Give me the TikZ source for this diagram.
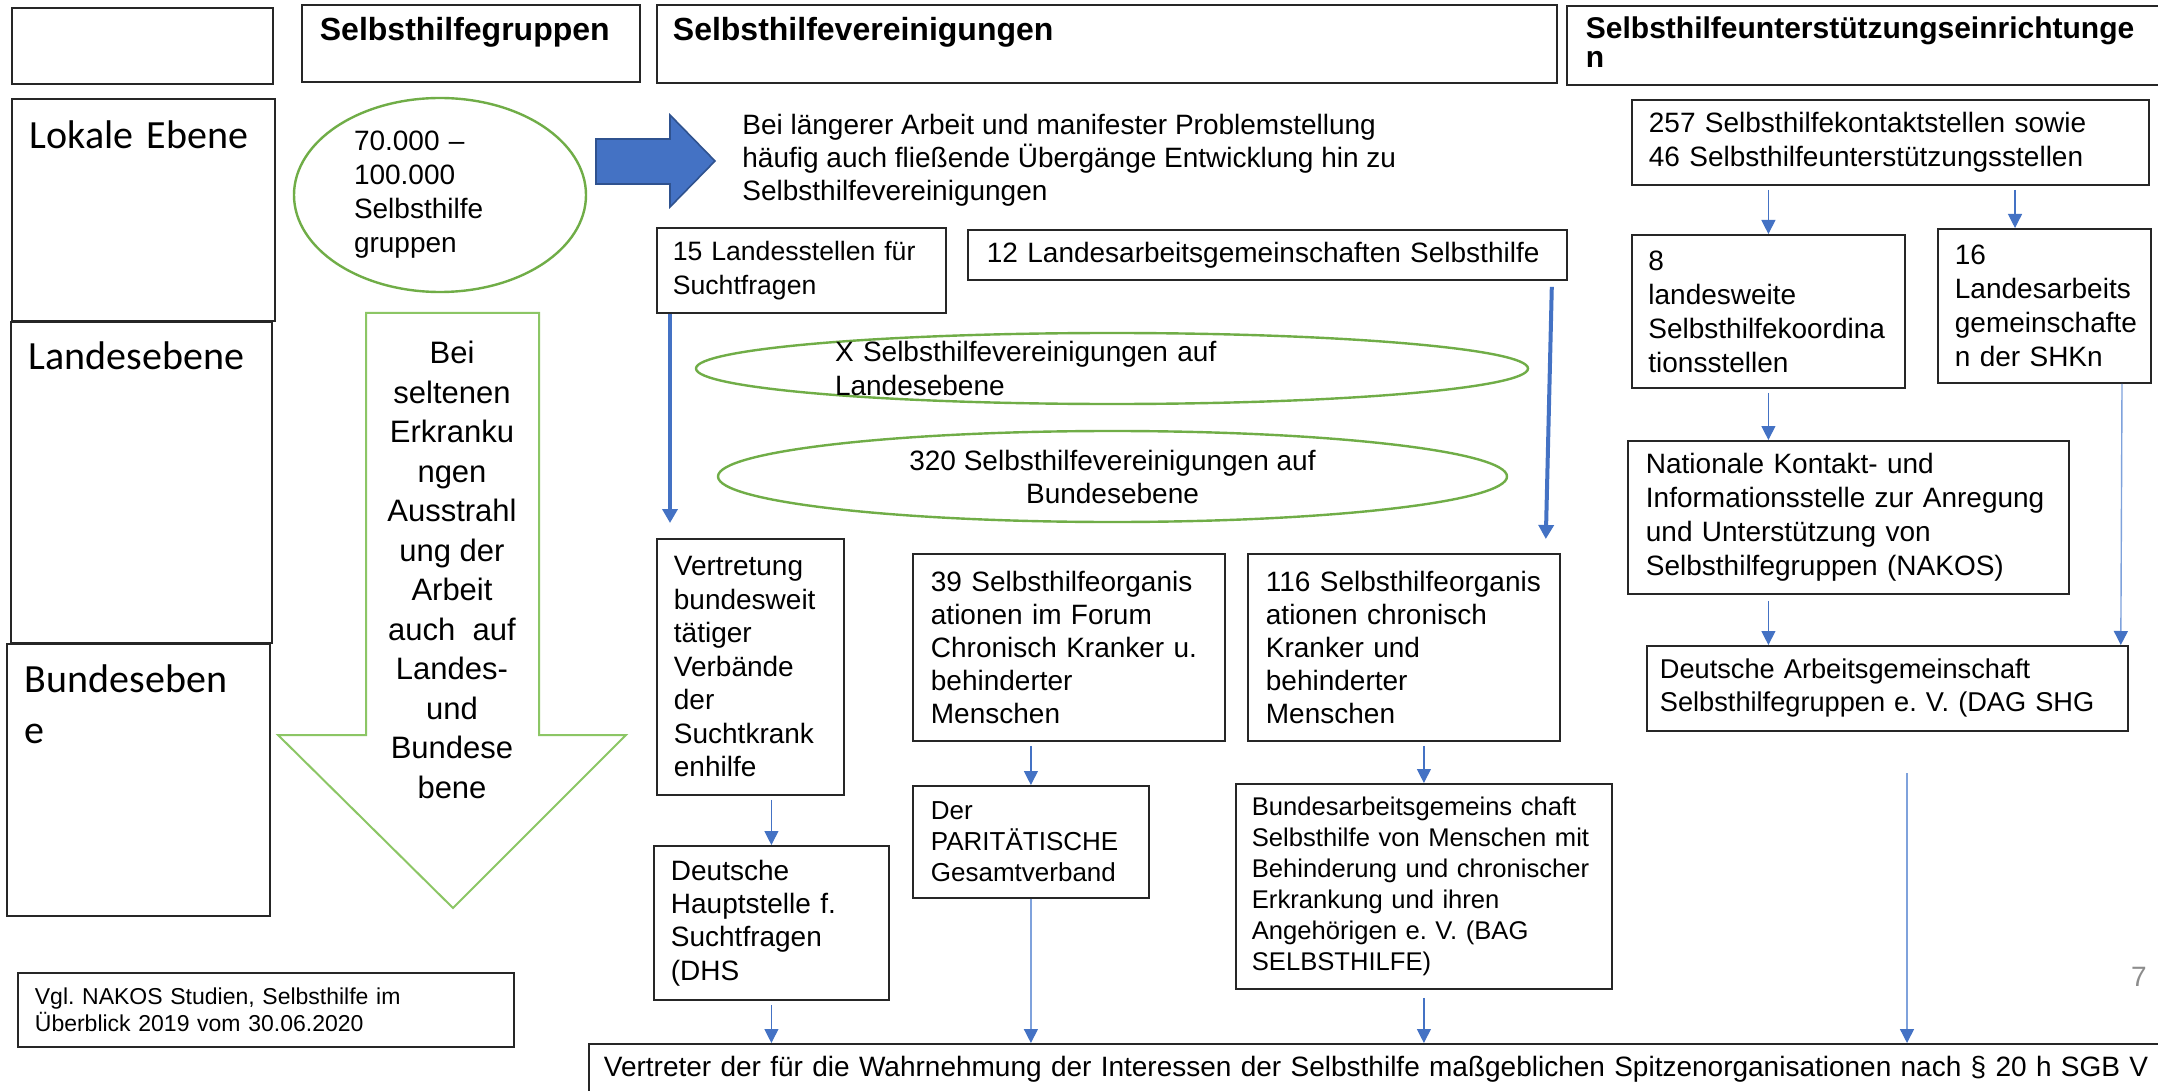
\documentclass[tikz,border=0pt]{standalone}
\usepackage{fontspec}
\setmainfont{Liberation Sans}
\newfontfamily\calibri{Carlito}
\usetikzlibrary{positioning, arrows.meta, calc, shapes.geometric}
\definecolor{sh-blue}{HTML}{4472C4}
\definecolor{sh-navy}{HTML}{2F528F}
\definecolor{sh-sky}{HTML}{7FA2DC}
\definecolor{sh-green}{HTML}{70AD47}
\definecolor{sh-lime}{HTML}{8CC665}
\definecolor{sh-line}{HTML}{262626}
\definecolor{sh-gray}{HTML}{8C8C8C}
\newcommand{\fsz}[2]{\fontsize{#1}{#2}\selectfont\frenchspacing}
\hyphenpenalty=10000
\exhyphenpenalty=10000

\begin{document}
\begin{tikzpicture}[x=0.5pt, y=-0.5pt,
    box/.style={draw=sh-line, line width=0.9pt, anchor=north west, align=left,
                inner ysep=0pt, font=\fsz{14pt}{17pt}},
    head/.style={box, font=\bfseries\fsz{16pt}{15pt}, text height=18pt},
    level/.style={box, font=\calibri\fsz{20pt}{25.5pt}, inner xsep=9pt, text width=113.5pt},
    oval/.style={draw=sh-green, line width=1.2pt, ellipse, inner sep=0pt},
    ovaltext/.style={inner sep=0pt, font=\fsz{14pt}{17pt}},
    arr/.style={-{Triangle[length=7pt, width=7pt]}, sh-blue, line width=0.6pt, shorten <=2pt},
    farr/.style={-{Triangle[length=7pt, width=7pt, color=sh-blue]}, sh-sky, line width=0.7pt},
    bigarr/.style={-{Triangle[length=7pt, width=7.5pt]}, sh-blue, line width=2pt},
]
    \useasboundingbox (0,0) rectangle (2158,1091);
    \fill[white] (0,0) rectangle (2158,1091);

    % Column heads
    \node[box, minimum width=130.5pt, minimum height=38pt] (corner) at (11,7) {};
    \node[head, inner xsep=9pt, text width=151pt, text depth=20.5pt] (hgruppen) at (301,4)
        {Selbsthilfegruppen};
    \node[head, inner xsep=8pt, text width=434pt, text depth=21pt] (hvereine) at (656,4)
        {Selbsthilfevereinigungen};
    \node[head, font=\bfseries\fsz{15pt}{14.5pt}, inner xsep=9.5pt, text width=300pt,
          text height=16.5pt, text depth=23pt] (hstellen) at (1566,5)
        {Selbsthilfeunterstützungseinrichtunge\\n};

    % Levels
    \node[level, text height=25pt, text depth=86pt] (lokal) at (11,98) {Lokale Ebene};
    \node[level, text width=112.5pt, text height=24pt, text depth=136.5pt] (landes) at (10,321)
        {Landesebene};
    \node[level, text height=24.5pt, text depth=111.5pt] (bundes) at (6,643) {Bundeseben\\e};

    % Selbsthilfegruppen
    \node[oval, minimum width=146pt, minimum height=97pt,
          label={[ovaltext, text width=86pt, align=left]center:{70.000 –\\100.000\\Selbsthilfe\\gruppen}}]
        (gruppen) at (440,195) {};
    \draw[draw=sh-lime, line width=1pt] (366,313) -- (539,313) -- (539,735) -- (626,735)
        -- (453,908) -- (278,735) -- (366,735) -- cycle;
    \node[font=\fsz{15.5pt}{19.75pt}, align=center, inner sep=0pt] (selten) at (452,570)
        {Bei\\seltenen\\Erkranku\\ngen\\Ausstrahl\\ung der\\Arbeit\\auch~ auf\\Landes-\\und\\Bundese\\bene};

    % Selbsthilfevereinigungen
    \draw[fill=sh-blue, draw=sh-navy, line width=0.8pt] (596,139) -- (670,139) -- (670,115)
        -- (715,161) -- (670,207) -- (670,184) -- (596,184) -- cycle;
    \node[align=left, anchor=west, inner sep=0pt, font=\fsz{14pt}{16.5pt}] (uebergang) at (742,160)
        {Bei längerer Arbeit und manifester Problemstellung\\häufig auch fließende Übergänge Entwicklung hin zu\\Selbsthilfevereinigungen};
    \node[box, font=\fsz{13.3pt}{17pt}, inner xsep=8pt, text width=128.5pt, minimum height=42.5pt]
        (ls15) at (656,227) {15 Landesstellen für\\Suchtfragen};
    \node[box, inner xsep=9.5pt, text width=280.5pt, minimum height=25pt] (lag12) at (967,229)
        {12 Landesarbeitsgemeinschaften Selbsthilfe};
    \node[oval, minimum width=416pt, minimum height=35.5pt,
          label={[ovaltext, text width=277pt, align=left]center:{X Selbsthilfevereinigungen auf\\Landesebene}}]
        (landesX) at (1112,368.5) {};
    \node[oval, minimum width=394.5pt, minimum height=45.5pt,
          label={[ovaltext, font=\fsz{14pt}{16.5pt}, align=center]center:{320 Selbsthilfevereinigungen auf\\Bundesebene}}]
        (bund320) at (1112.5,476.5) {};
    \node[box, font=\fsz{14pt}{16.75pt}, inner xsep=8.5pt, text width=76.5pt, minimum height=128pt]
        (vert) at (656,538) {Vertretung\\bundesweit\\tätiger\\Verbände\\der\\Suchtkrank\\enhilfe};
    \node[box, font=\fsz{14pt}{16.6pt}, inner xsep=9pt, text width=138pt, minimum height=93.5pt]
        (org39) at (912,553) {39 Selbsthilfeorganis\\ationen im Forum\\Chronisch Kranker u.\\behinderter\\Menschen};
    \node[box, font=\fsz{14pt}{16.6pt}, inner xsep=9pt, text width=138pt, minimum height=93.5pt]
        (org116) at (1247,553) {116 Selbsthilfeorganis\\ationen chronisch\\Kranker und\\behinderter\\Menschen};
    \node[box, font=\fsz{14pt}{16.7pt}, inner xsep=8.5pt, text width=100.5pt, minimum height=77pt]
        (dhs) at (653,845) {Deutsche\\Hauptstelle f.\\Suchtfragen\\(DHS};
    \node[box, font=\fsz{13pt}{15.5pt}, inner xsep=9pt, text width=100pt, minimum height=56pt]
        (par) at (912,785) {Der\\PARITÄTISCHE\\Gesamtverband};
    \node[box, font=\fsz{12.8pt}{15.5pt}, inner xsep=8pt, text width=172pt, minimum height=102.5pt]
        (bag) at (1235,783) {Bundesarbeitsgemeins chaft\\Selbsthilfe von Menschen mit\\Behinderung und chronischer\\Erkrankung und ihren\\Angehörigen e. V. (BAG\\SELBSTHILFE)};

    % Selbsthilfeunterstuetzungseinrichtungen
    \node[box, inner xsep=8.5pt, text width=241.5pt, minimum height=42.5pt] (kontakt) at (1631,99)
        {257 Selbsthilfekontaktstellen sowie\\46 Selbsthilfeunterstützungsstellen};
    \node[box, inner xsep=8.25pt, text width=120pt, minimum height=76.5pt] (koord) at (1631,234)
        {8\\landesweite\\Selbsthilfekoordina\\tionsstellen};
    \node[box, inner xsep=8.5pt, text width=89.5pt, minimum height=77pt] (lag16) at (1937,228)
        {16\\Landesarbeits\\gemeinschafte\\n der SHKn};
    \node[box, inner xsep=9pt, text width=202.5pt, minimum height=76.5pt] (nakos) at (1627,440)
        {Nationale Kontakt- und\\Informationsstelle zur Anregung\\und Unterstützung von\\Selbsthilfegruppen (NAKOS)};
    \node[box, font=\fsz{13.6pt}{16.5pt}, inner xsep=6.5pt, text width=227.5pt, minimum height=42.5pt]
        (dag) at (1646,645) {Deutsche Arbeitsgemeinschaft\\Selbsthilfegruppen e. V. (DAG SHG};

    % Bottom
    \node[box, inner xsep=7.5pt, text width=790pt, minimum height=25pt] (spitze) at (588,1043)
        {Vertreter der für die Wahrnehmung der Interessen der Selbsthilfe maßgeblichen Spitzenorganisationen nach § 20 h SGB V};
    \node[box, font=\fsz{11.5pt}{13.5pt}, inner xsep=8.5pt, text width=231pt, minimum height=37pt]
        (quelle) at (17,972) {Vgl. NAKOS Studien, Selbsthilfe im\\Überblick 2019 vom 30.06.2020};
    \node[text=sh-gray, font=\fsz{14pt}{17pt}] (seite) at (2139,977) {7};

    % Arrows
    \coordinate (lag16in) at ($(lag16.north west)+(78,0)$);
    \coordinate (vfree) at (1907,773);
    \draw[bigarr] ($(ls15.south west)+(14,0)$) -- ($(vert.north west)+(14,-15)$);
    \draw[bigarr] ($(lag12.south east)+(-16,6)$) -- ($(org116.north east)+(-15,-14)$);
    \draw[arr] (koord.north |- kontakt.south) -- (koord.north);
    \draw[arr] (lag16in |- kontakt.south) -- (lag16in);
    \draw[arr] (koord.south) -- (koord.south |- nakos.north);
    \draw[arr, shorten <=3pt] (koord.south |- nakos.south) -- (koord.south |- dag.north);
    \draw[farr] ($(lag16.south west)+(185,0)$) -- ($(dag.north east)+(-8,0)$);
    \draw[farr] (vfree) -- (vfree |- spitze.north);
    \draw[arr] (dhs.north |- vert.south) -- (dhs.north);
    \draw[arr] (par.north |- org39.south) -- (par.north);
    \draw[arr] (bag.north |- org116.south) -- (bag.north);
    \draw[arr] (dhs.south) -- (dhs.south |- spitze.north);
    \draw[farr] (par.south) -- (par.south |- spitze.north);
    \draw[arr, shorten <=4pt] (bag.south) -- (bag.south |- spitze.north);
\end{tikzpicture}
\end{document}
